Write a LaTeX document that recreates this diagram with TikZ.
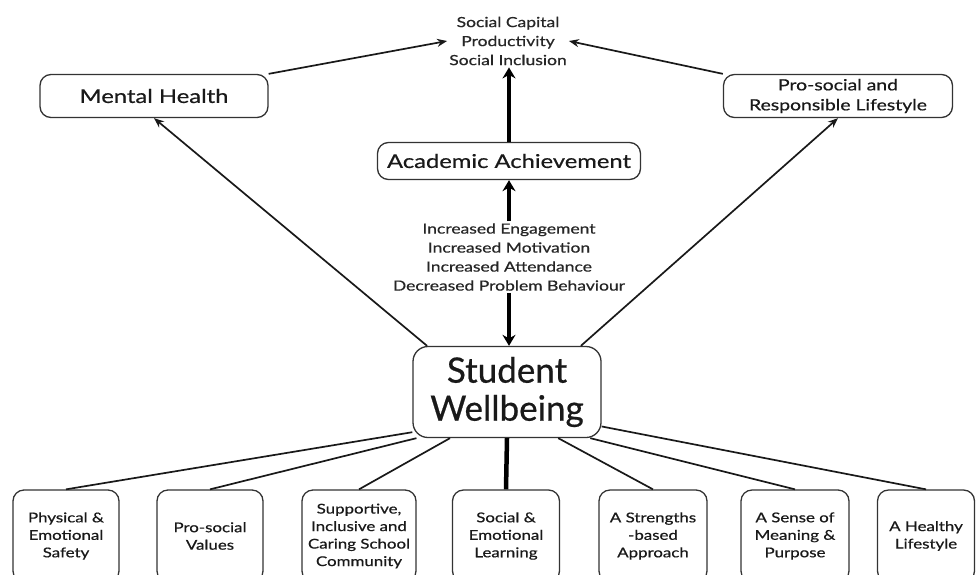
\documentclass[tikz,border=0pt]{standalone}
\usepackage{fontspec}
\setmainfont{Lato}[FakeBold=0.6]
\newfontfamily\widefont{Lato}[FakeStretch=1.25, FakeBold=0.6]
\usetikzlibrary{arrows.meta,positioning,calc}

\begin{document}
\begin{tikzpicture}[
    x=1pt, y=-1pt,
    font=\widefont\fontsize{14}{19}\selectfont,
    box/.style={draw=black!80, line width=1.3pt, rounded corners=11pt, align=center,
      inner sep=2pt, text=black!90},
    base/.style={box, minimum height=92pt, font=\widefont\fontsize{13.5}{17.5}\selectfont},
    plain/.style={align=center, inner sep=2pt, text=black!85},
    link/.style={line width=1.7pt, black!90},
    arrow/.style={link, -{Stealth[length=10pt,width=8pt]}},
    bigarrow/.style={line width=4.5pt, black, -{Stealth[length=11pt,width=13pt]}}
  ]
  \useasboundingbox (0,0) rectangle (977,574);

  % outcomes at the top
  \node[plain] (outcomes) at (508,41) {Social Capital\\Productivity\\Social Inclusion};
  \node[box, minimum width=228pt, minimum height=43pt, font=\widefont\fontsize{19}{22}\selectfont]
    (mental) at (154,96) {Mental Health};
  \node[box, minimum width=229pt, minimum height=43pt, font=\widefont\fontsize{15.5}{20}\selectfont]
    (prosocial) at (838,96) {Pro-social and\\Responsible Lifestyle};
  \node[box, minimum width=263pt, minimum height=37pt, font=\widefont\fontsize{19}{22}\selectfont]
    (academic) at (509,161) {Academic Achievement};
  \node[plain] (gains) at (509,257)
    {Increased Engagement\\Increased Motivation\\Increased Attendance\\Decreased Problem Behaviour};

  % centre
  \node[box, rounded corners=15pt, minimum width=188pt, minimum height=91pt,
    font=\rmfamily\fontsize{35}{38}\selectfont] (wellbeing) at (507,392) {Student\\Wellbeing};

  % foundations along the bottom
  \node[base, minimum width=106pt] (safety) at (66,536) {Physical \&\\Emotional\\Safety};
  \node[base, minimum width=106pt] (values) at (210,536) {Pro-social\\Values};
  \node[base, minimum width=114pt] (community) at (359,536) {Supportive,\\Inclusive and\\Caring School\\Community};
  \node[base, minimum width=107pt] (sel) at (506,536) {Social \&\\Emotional\\Learning};
  \node[base, minimum width=108pt] (strengths) at (653,536) {A Strengths\\-based\\Approach};
  \node[base, minimum width=108pt] (meaning) at (795,536) {A Sense of\\Meaning \&\\Purpose};
  \node[base, minimum width=97pt] (healthy) at (926,536) {A Healthy\\Lifestyle};

  \draw[arrow] (mental.north east) -- (outcomes.west);
  \draw[arrow] (prosocial.north west) -- (outcomes.east);
  \draw[bigarrow] (academic.north) -- (academic.north |- outcomes.south);
  \draw[bigarrow] (gains.north) -- (gains.north |- academic.south);
  \draw[bigarrow] (gains.south) -- (gains.south |- wellbeing.north);
  \draw[arrow] (wellbeing.150) -- (mental.south);
  \draw[arrow] (wellbeing.32) -- (prosocial.south);

  \draw[link] (wellbeing.203) -- (safety.north);
  \draw[link] (wellbeing.207) -- (values.north);
  \draw[link] (wellbeing.219) -- (community.north);
  \draw[line width=4.5pt] (wellbeing.south) -- (sel.north);
  \draw[link] (wellbeing.318) -- (strengths.north);
  \draw[link] (wellbeing.331) -- (meaning.north);
  \draw[link] (wellbeing.340) -- (healthy.north);
\end{tikzpicture}
\end{document}
